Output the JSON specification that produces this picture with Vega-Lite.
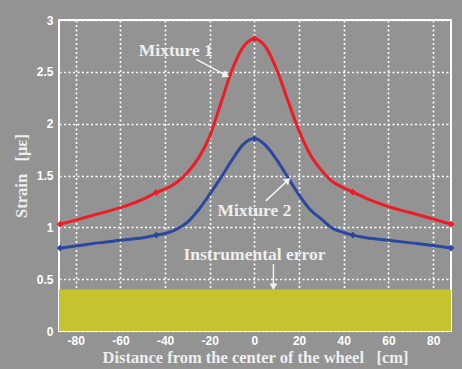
{
  "$schema": "https://vega.github.io/schema/vega-lite/v6.json",
  "width": 392,
  "height": 311,
  "autosize": "none",
  "padding": {"left": 59, "top": 20, "right": 11, "bottom": 38},
  "background": "#939393",
  "config": {
    "view": {"stroke": "#ffffff", "strokeWidth": 2, "fill": "#939393"},
    "axis": {
      "domain": false,
      "ticks": false,
      "grid": true,
      "gridColor": "#ffffff",
      "gridDash": [2, 2.5],
      "gridWidth": 1.6,
      "gridOpacity": 1,
      "labelColor": "#ffffff",
      "labelFont": "Liberation Sans",
      "labelFontWeight": "bold",
      "labelFontSize": 12,
      "labelExpr": "'' + datum.value",
      "titleColor": "#eeeeee",
      "titleFont": "Liberation Serif",
      "titleFontWeight": "bold",
      "titleFontSize": 16.5
    }
  },
  "datasets": {
    "curves": [
      {"d": -87, "s": 1.03, "m": "Mixture 1"},
      {"d": -80, "s": 1.07, "m": "Mixture 1"},
      {"d": -70, "s": 1.13, "m": "Mixture 1"},
      {"d": -60, "s": 1.19, "m": "Mixture 1"},
      {"d": -50, "s": 1.27, "m": "Mixture 1"},
      {"d": -44, "s": 1.335, "m": "Mixture 1"},
      {"d": -40, "s": 1.37, "m": "Mixture 1"},
      {"d": -35, "s": 1.43, "m": "Mixture 1"},
      {"d": -30, "s": 1.53, "m": "Mixture 1"},
      {"d": -25, "s": 1.67, "m": "Mixture 1"},
      {"d": -20, "s": 1.88, "m": "Mixture 1"},
      {"d": -15, "s": 2.2, "m": "Mixture 1"},
      {"d": -10, "s": 2.52, "m": "Mixture 1"},
      {"d": -5, "s": 2.74, "m": "Mixture 1"},
      {"d": 0, "s": 2.82, "m": "Mixture 1"},
      {"d": 5, "s": 2.74, "m": "Mixture 1"},
      {"d": 10, "s": 2.52, "m": "Mixture 1"},
      {"d": 15, "s": 2.22, "m": "Mixture 1"},
      {"d": 20, "s": 1.93, "m": "Mixture 1"},
      {"d": 25, "s": 1.7, "m": "Mixture 1"},
      {"d": 30, "s": 1.55, "m": "Mixture 1"},
      {"d": 35, "s": 1.44, "m": "Mixture 1"},
      {"d": 40, "s": 1.38, "m": "Mixture 1"},
      {"d": 44, "s": 1.34, "m": "Mixture 1"},
      {"d": 50, "s": 1.28, "m": "Mixture 1"},
      {"d": 60, "s": 1.2, "m": "Mixture 1"},
      {"d": 70, "s": 1.14, "m": "Mixture 1"},
      {"d": 80, "s": 1.08, "m": "Mixture 1"},
      {"d": 88, "s": 1.03, "m": "Mixture 1"},
      {"d": -87, "s": 0.8, "m": "Mixture 2"},
      {"d": -80, "s": 0.82, "m": "Mixture 2"},
      {"d": -70, "s": 0.85, "m": "Mixture 2"},
      {"d": -60, "s": 0.875, "m": "Mixture 2"},
      {"d": -50, "s": 0.9, "m": "Mixture 2"},
      {"d": -44, "s": 0.925, "m": "Mixture 2"},
      {"d": -40, "s": 0.94, "m": "Mixture 2"},
      {"d": -35, "s": 0.98, "m": "Mixture 2"},
      {"d": -30, "s": 1.05, "m": "Mixture 2"},
      {"d": -25, "s": 1.17, "m": "Mixture 2"},
      {"d": -20, "s": 1.32, "m": "Mixture 2"},
      {"d": -15, "s": 1.48, "m": "Mixture 2"},
      {"d": -10, "s": 1.65, "m": "Mixture 2"},
      {"d": -5, "s": 1.8, "m": "Mixture 2"},
      {"d": 0, "s": 1.856, "m": "Mixture 2"},
      {"d": 5, "s": 1.79, "m": "Mixture 2"},
      {"d": 10, "s": 1.65, "m": "Mixture 2"},
      {"d": 15, "s": 1.48, "m": "Mixture 2"},
      {"d": 20, "s": 1.31, "m": "Mixture 2"},
      {"d": 25, "s": 1.17, "m": "Mixture 2"},
      {"d": 30, "s": 1.08, "m": "Mixture 2"},
      {"d": 35, "s": 0.99, "m": "Mixture 2"},
      {"d": 40, "s": 0.95, "m": "Mixture 2"},
      {"d": 44, "s": 0.925, "m": "Mixture 2"},
      {"d": 50, "s": 0.9, "m": "Mixture 2"},
      {"d": 60, "s": 0.875, "m": "Mixture 2"},
      {"d": 70, "s": 0.85, "m": "Mixture 2"},
      {"d": 80, "s": 0.825, "m": "Mixture 2"},
      {"d": 88, "s": 0.8, "m": "Mixture 2"}
    ],
    "markers": [
      {"d": -87, "s": 1.03, "m": "Mixture 1"},
      {"d": -44, "s": 1.335, "m": "Mixture 1"},
      {"d": 0, "s": 2.82, "m": "Mixture 1"},
      {"d": 44, "s": 1.34, "m": "Mixture 1"},
      {"d": 88, "s": 1.03, "m": "Mixture 1"},
      {"d": -87, "s": 0.8, "m": "Mixture 2"},
      {"d": -44, "s": 0.925, "m": "Mixture 2"},
      {"d": 0, "s": 1.856, "m": "Mixture 2"},
      {"d": 44, "s": 0.925, "m": "Mixture 2"},
      {"d": 88, "s": 0.8, "m": "Mixture 2"}
    ],
    "band": [{"x0": -87.5, "x1": 88, "lo": 0, "hi": 0.4}],
    "labels": [
      {"d": -35.2, "s": 2.7, "t": "Mixture 1"},
      {"d": 0, "s": 1.16, "t": "Mixture 2"},
      {"d": 0, "s": 0.732, "t": "Instrumental error"}
    ],
    "arrows": [
      {"d": -26, "s": 2.62, "d2": -12.7, "s2": 2.466, "a": 118},
      {"d": 5.1, "s": 1.255, "d2": 15.0, "s2": 1.455, "a": 47},
      {"d": 8.5, "s": 0.645, "d2": 8.5, "s2": 0.427, "a": 180}
    ]
  },
  "layer": [
    {
      "data": {"name": "band"},
      "mark": {"type": "rect", "color": "#c5c42e"},
      "encoding": {
        "x": {"field": "x0", "type": "quantitative", "scale": {"domain": [-87.5, 88], "nice": false, "zero": false},
          "axis": {"values": [-80, -60, -40, -20, 0, 20, 40, 60, 80], "title": "Distance from the center of the wheel\u00a0\u00a0\u00a0[cm]", "labelPadding": 4, "titlePadding": 3}},
        "x2": {"field": "x1"},
        "y": {"field": "lo", "type": "quantitative", "scale": {"domain": [0, 3], "nice": false},
          "axis": {"values": [0, 0.5, 1, 1.5, 2, 2.5, 3], "title": "Strain\u00a0\u00a0\u00a0[με]", "labelPadding": 6, "titlePadding": 7}},
        "y2": {"field": "hi"}
      }
    },
    {
      "data": {"name": "curves"},
      "mark": {"type": "line", "interpolate": "monotone", "strokeWidth": 3},
      "encoding": {
        "x": {"field": "d", "type": "quantitative"},
        "y": {"field": "s", "type": "quantitative"},
        "color": {"field": "m", "type": "nominal", "scale": {"domain": ["Mixture 1", "Mixture 2"], "range": ["#ee1c25", "#2b47a0"]}, "legend": null}
      }
    },
    {
      "data": {"name": "markers"},
      "mark": {"type": "point", "filled": true, "shape": "diamond", "size": 45, "opacity": 1},
      "encoding": {
        "x": {"field": "d", "type": "quantitative"},
        "y": {"field": "s", "type": "quantitative"},
        "color": {"field": "m", "type": "nominal", "legend": null}
      }
    },
    {
      "data": {"name": "arrows"},
      "mark": {"type": "rule", "color": "#f2f2f2", "strokeWidth": 1.5},
      "encoding": {
        "x": {"field": "d", "type": "quantitative"},
        "y": {"field": "s", "type": "quantitative"},
        "x2": {"field": "d2"},
        "y2": {"field": "s2"}
      }
    },
    {
      "data": {"name": "arrows"},
      "mark": {"type": "point", "shape": "triangle-up", "filled": true, "size": 60, "color": "#f2f2f2", "opacity": 1},
      "encoding": {
        "x": {"field": "d2", "type": "quantitative"},
        "y": {"field": "s2", "type": "quantitative"},
        "angle": {"field": "a", "type": "quantitative", "scale": null}
      }
    },
    {
      "data": {"name": "labels"},
      "mark": {"type": "text", "font": "Liberation Serif", "fontWeight": "bold", "fontSize": 17.5, "color": "#eeeeee"},
      "encoding": {
        "x": {"field": "d", "type": "quantitative"},
        "y": {"field": "s", "type": "quantitative"},
        "text": {"field": "t"}
      }
    }
  ]
}
